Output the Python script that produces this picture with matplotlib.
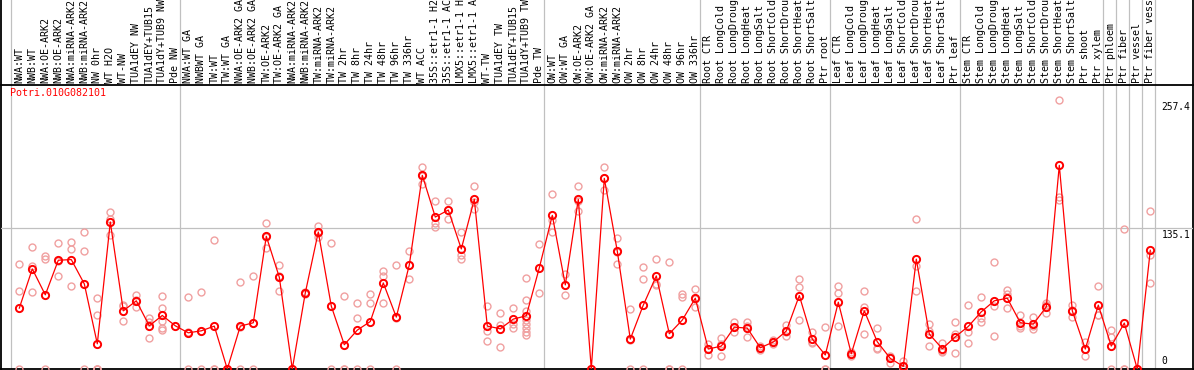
import matplotlib
matplotlib.use("Agg")
import matplotlib.pyplot as plt
from matplotlib.transforms import blended_transform_factory
import numpy as np

gene_id = "Potri.010G082101"

labels = [
    "NWA:WT", "NWB:WT", "NWA:OE-ARK2", "NWB:OE-ARK2", "NWA:miRNA-ARK2", "NWB:miRNA-ARK2",
    "NW 0hr", "WT H2O", "WT-NW", "TUA1dEY NW", "TUA1dEY+TUB15", "TUA1dY+TUB9 NW", "Pde NW",
    "NWA:WT GA", "NWBWT GA", "TW:WT", "TW:WT GA", "NWA:OE-ARK2 GA", "NWB:OE-ARK2 GA",
    "TW:OE-ARK2", "TW:OE-ARK2 GA", "NWA:miRNA-ARK2", "NWB:miRNA-ARK2", "TW:miRNA-ARK2",
    "TW:miRNA-ARK2", "TW 2hr", "TW 8hr", "TW 24hr", "TW 48hr", "TW 96hr", "TW 336hr",
    "WT ACC", "35S::etr1-1 H2", "35S::etr1-1 AC", "LMX5::etr1-1 H", "LMX5::etr1-1 A",
    "WT-TW", "TUA1dEY TW", "TUA1dEY+TUB15", "TUA1dY+TUB9 TW", "Pde TW",
    "OW:WT", "OW:WT GA", "OW:OE-ARK2", "OW:OE-ARK2 GA", "OW:miRNA-ARK2", "OW:miRNA-ARK2",
    "OW 2hr", "OW 8hr", "OW 24hr", "OW 48hr", "OW 96hr", "OW 336hr",
    "Root CTR", "Root LongCold", "Root LongDroug", "Root LongHeat", "Root LongSalt",
    "Root ShortCold", "Root ShortDrou", "Root ShortHeat", "Root ShortSalt", "Ptr root",
    "Leaf CTR", "Leaf LongCold", "Leaf LongDroug", "Leaf LongHeat", "Leaf LongSalt",
    "Leaf ShortCold", "Leaf ShortDrou", "Leaf ShortHeat", "Leaf ShortSalt", "Ptr leaf",
    "Stem CTR", "Stem LongCold", "Stem LongDroug", "Stem LongHeat", "Stem LongSalt",
    "Stem ShortCold", "Stem ShortDrou", "Stem ShortHeat", "Stem ShortSalt", "Ptr shoot",
    "Ptr xylem", "Ptr phloem", "Ptr fiber", "Ptr vessel", "Ptr fiber vess",
]

means = [
    58.2, 95.7, 70.9, 104.0, 104.6, 81.4, 24.1, 140.6, 55.6, 65.2, 41.3, 51.2, 41.3,
    34.6, 36.5, 41.0, 0.0, 41.0, 44.2, 126.9, 87.8, 0.0, 72.8, 131.0, 60.1, 23.2, 37.2,
    45.4, 82.3, 49.6, 99.5, 185.1, 145.3, 152.0, 114.8, 162.2, 41.0, 38.5, 47.7, 50.9, 96.7,
    146.9, 80.4, 162.2, 0.0, 182.3, 112.6, 28.6, 61.1, 89.0, 33.7, 46.8, 67.7,
    19.1, 21.9, 40.0, 39.1, 20.3, 25.8, 36.3, 70.2, 28.6, 13.4,
    63.9, 14.6, 55.6, 26.0, 10.1, 2.5, 105.0, 33.4, 19.4, 30.8,
    40.7, 54.7, 65.2, 67.7, 44.2, 42.9, 59.4, 194.7, 55.6, 19.1, 61.1,
    21.9, 43.9, 0.0, 113.5,
]

replicates = [
    [100.0, 74.7, 0.0], [116.7, 98.3, 73.5], [108.0, 105.0, 0.0], [120.2, 103.0, 89.0],
    [121.5, 114.8, 79.5], [130.7, 112.6, 0.0], [67.7, 51.5, 0.0, 0.0, 0.0],
    [149.8, 143.0, 128.1], [61.4, 60.0, 46.1], [70.9, 65.5, 59.2], [49.0, 45.0, 29.9],
    [69.9, 58.2, 45.8, 39.1, 37.5], [],
    [68.7, 35.0, 0.0], [73.5, 36.0, 0.0], [123.4, 0.0, 0.0], [0.0], [83.0, 40.0, 0.0],
    [89.0, 44.0, 0.0], [139.3, 126.0, 115.5], [99.5, 89.0, 75.0], [0.0], [73.5, 72.0, 73.0],
    [136.7, 130.0, 126.5], [120.2, 60.0, 0.0], [69.9, 0.0, 0.0], [63.3, 48.7, 0.0],
    [71.8, 63.0, 0.0], [94.1, 89.0, 63.3], [99.2, 49.0, 0.0], [112.9, 99.0, 85.9],
    [193.0, 185.0, 177.1], [160.6, 139.3, 136.1], [160.6, 152.0, 143.4],
    [130.7, 108.8, 105.0], [174.6, 160.0, 153.2], [60.4, 35.9, 27.0], [53.4, 41.6, 21.3],
    [58.2, 42.9, 39.1], [86.8, 66.1, 55.6, 47.0, 43.2, 39.4, 35.6, 32.4], [119.3, 73.1],
    [167.3, 142.0, 131.0], [90.9, 80.0, 70.9], [174.6, 161.0, 151.0], [0.0],
    [192.7, 183.0, 171.0], [125.0, 112.0, 100.2], [57.3, 28.0, 0.0], [97.6, 85.9, 0.0],
    [105.0, 81.6, 80.4], [102.1, 0.0, 0.0], [71.6, 69.3, 0.0], [76.3, 67.0, 59.7],
    [23.9, 19.5, 13.6], [29.9, 23.5, 12.4], [44.8, 40.0, 35.3], [45.4, 41.5, 30.5],
    [22.2, 20.0, 17.8], [27.5, 25.8, 24.0], [41.6, 35.5, 31.8], [85.9, 78.2, 46.8],
    [35.3, 25.7, 24.8], [40.1, 0.0, 0.0],
    [79.5, 72.5, 41.0], [16.0, 14.6, 12.5], [74.4, 59.7, 33.4], [38.8, 19.7, 19.5],
    [12.7, 11.9, 5.7], [7.9, 0.0, 0.0], [143.1, 98.9, 74.4], [43.2, 36.8, 21.9],
    [25.1, 17.0, 16.2], [44.8, 33.0, 15.3],
    [61.4, 35.6, 25.1], [68.7, 48.7, 44.5], [102.1, 60.4, 31.5], [75.7, 71.9, 58.2],
    [51.8, 41.5, 39.4], [49.6, 41.0, 38.2], [63.5, 61.0, 53.4], [257.4, 164.7, 161.5],
    [61.4, 56.0, 49.3], [25.4, 19.0, 12.7], [79.5, 52.0, 51.8],
    [37.5, 30.5, 0.0], [133.6, 0.0, 0.0], [0.0, 0.0], [150.8, 108.8, 82.0],
]

group_sizes = [13, 28, 12, 10, 10, 11, 1, 1, 1, 1]
y_ticks = [0.0, 135.1, 257.4]
y_tick_labels = ["0", "135.1", "257.4"]

W, H = 1194, 370
fig = plt.figure(figsize=(W / 100, H / 100), dpi=100)
fig.patch.set_facecolor("white")

left_px, right_px = 1, 1193
top_px, bottom_px = 85, 369
x_first_px, x_step_px = 19.3, 13.0
px_per_unit = (369.0 - 227.7) / 135.1

xlim = ((left_px - x_first_px) / x_step_px, (right_px - x_first_px) / x_step_px)

# background axes (full height) for separators and outer frame
ax_bg = fig.add_axes([left_px / W, 1 - bottom_px / H, (right_px - left_px) / W, bottom_px / H])
ax_bg.set_xlim(*xlim)
ax_bg.set_ylim(0, 1)
ax_bg.set_xticks([])
ax_bg.set_yticks([])
for s in ["left", "right", "bottom"]:
    ax_bg.spines[s].set_linewidth(1.3)
    ax_bg.spines[s].set_color("black")
ax_bg.spines["top"].set_visible(False)

bounds = np.concatenate([[0], np.cumsum(group_sizes)]) - 0.64
for b in bounds:
    ax_bg.axvline(b, color="#c0c0c0", lw=0.9, zorder=1)

# data axes
ax = fig.add_axes([left_px / W, 1 - bottom_px / H, (right_px - left_px) / W,
                   (bottom_px - top_px) / H], zorder=2)
ax.patch.set_alpha(0)
ax.set_xlim(*xlim)
ax.set_ylim(0, (bottom_px - top_px) / px_per_unit)
ax.set_xticks([])
ax.set_yticks([])
for s in ["left", "right", "bottom"]:
    ax.spines[s].set_visible(False)
ax.spines["top"].set_linewidth(1.3)
ax.spines["top"].set_color("black")

ax.axhline(y_ticks[1], color="#c0c0c0", lw=0.9, zorder=1)

x = np.arange(len(means))
rx, ry = [], []
for i, reps in enumerate(replicates):
    for r in reps:
        rx.append(i)
        ry.append(r)
ax.plot(rx, ry, ls="none", marker="o", ms=5.0, mfc="none", mec="#f0a0a0", mew=1.0, zorder=3)
ax.plot(x, means, color="#ff0000", lw=0.9, marker="o", ms=5.2, mfc="none", mec="#ff0000",
        mew=1.4, zorder=4)

mono = "DejaVu Sans Mono"
fs = 7.2

# tick labels on the right
tr_y = blended_transform_factory(ax.transAxes, ax.transData)
tick_x = (1161.5 - left_px) / (right_px - left_px)
for v, t in zip(y_ticks, y_tick_labels):
    va = "bottom" if v == 0 else "top"
    off = 2.5 if v == 0 else -2.5
    ax.text(tick_x, v + off / px_per_unit, t, transform=tr_y,
            ha="left", va=va, fontsize=6.9, family=mono, color="black")

# gene id
ax.text(9 / (right_px - left_px), 1 - 3 / (bottom_px - top_px), gene_id, transform=ax.transAxes,
        ha="left", va="top", fontsize=fs, family=mono, color="#ff0000")

# column labels
tr_lab = blended_transform_factory(ax.transData, fig.transFigure)
for i, lab in enumerate(labels):
    ax.text(i, 1 - 83 / H, lab, transform=tr_lab, rotation=90, ha="center", va="bottom",
            fontsize=fs, family=mono, color="black", clip_on=False)

fig.savefig("out.png", dpi=100)
